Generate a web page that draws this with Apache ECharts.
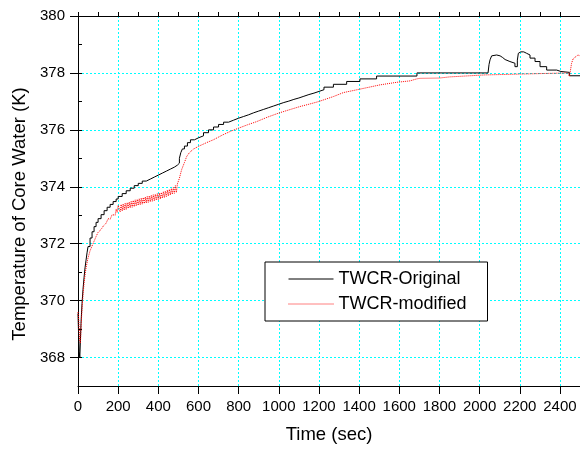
<!DOCTYPE html>
<html>
<head>
<meta charset="utf-8">
<script src="https://cdn.jsdelivr.net/npm/echarts@6/dist/echarts.min.js"></script>
<style>
  html, body { margin: 0; padding: 0; background: #fff; }
  #chart { width: 580px; height: 450px; }
</style>
</head>
<body>
<div id="chart"></div>
<script>
// Core water temperature (K) against time (s), [time, temperature] pairs.
// TWCR-Original is a stepped trace: each pair holds the level from that time on.
const twcrOriginal = [
  [0, 369.55], [3, 368.8], [6, 368.2], [9, 368.0], [12, 368.6], [15, 369.2],
  [20, 369.9], [25, 370.4], [30, 370.8], [35, 371.15], [40, 371.42], [45, 371.68],
  [50, 371.9], [60, 372.2], [70, 372.42], [80, 372.6], [90, 372.75], [100, 372.88],
  [115, 373.02], [130, 373.16], [145, 373.28], [160, 373.38], [175, 373.48],
  [190, 373.57], [200, 373.66], [220, 373.76], [240, 373.86], [260, 373.95],
  [280, 374.04], [300, 374.12], [320, 374.2], [340, 374.27], [360, 374.34],
  [380, 374.41], [400, 374.48], [420, 374.55], [440, 374.62], [460, 374.69],
  [480, 374.76], [495, 374.83], [505, 375.0], [512, 375.2], [520, 375.33],
  [530, 375.43], [545, 375.55], [560, 375.65], [580, 375.72], [600, 375.79],
  [625, 375.9], [650, 376.0], [675, 376.1], [700, 376.19], [725, 376.27],
  [750, 376.34], [775, 376.41], [800, 376.47], [825, 376.53], [850, 376.6],
  [875, 376.66], [900, 376.72], [925, 376.78], [950, 376.84], [975, 376.9],
  [1000, 376.96], [1025, 377.01], [1050, 377.07], [1075, 377.12], [1100, 377.18],
  [1125, 377.24], [1150, 377.29], [1175, 377.35], [1200, 377.41], [1225, 377.5],
  [1272, 377.6], [1338, 377.7], [1404, 377.79], [1487, 377.89], [1688, 378.0],
  [2042, 378.0], [2047, 378.3], [2052, 378.46], [2060, 378.6], [2068, 378.63],
  [2085, 378.6], [2102, 378.54], [2115, 378.47], [2127, 378.4], [2151, 378.34],
  [2176, 378.22], [2188, 378.45], [2193, 378.69], [2200, 378.74], [2205, 378.8],
  [2212, 378.74], [2220, 378.69], [2234, 378.63], [2251, 378.52], [2276, 378.4],
  [2301, 378.22], [2334, 378.1], [2384, 378.05], [2405, 378.02], [2447, 377.9],
  [2500, 377.9]
];

const twcrModified = [
  [0, 369.6], [4, 369.3], [8, 368.6], [12, 368.5], [16, 369.2], [20, 369.7],
  [25, 370.2], [30, 370.6], [35, 370.9], [40, 371.15], [50, 371.5], [60, 371.75],
  [76, 372.02], [90, 372.25], [100, 372.4], [115, 372.5], [126, 372.62],
  [140, 372.72], [150, 372.88], [160, 372.86], [170, 373.02], [176, 373.08],
  [185, 373.0], [190, 373.22], [195, 373.1], [200, 373.35],
  [205, 373.36], [210, 373.12], [215, 373.38], [220, 373.15], [225, 373.4],
  [230, 373.18], [235, 373.42], [240, 373.2], [245, 373.44], [250, 373.24],
  [255, 373.46], [260, 373.26], [265, 373.49], [270, 373.28], [275, 373.52],
  [280, 373.3], [285, 373.54], [290, 373.33], [295, 373.56], [300, 373.35],
  [305, 373.58], [310, 373.37], [315, 373.6], [320, 373.39], [325, 373.62],
  [330, 373.41], [335, 373.64], [340, 373.43], [345, 373.66], [350, 373.45],
  [355, 373.68], [360, 373.47], [365, 373.7], [370, 373.49], [375, 373.72],
  [380, 373.51], [385, 373.74], [390, 373.53], [395, 373.76], [400, 373.55],
  [405, 373.78], [410, 373.57], [415, 373.8], [420, 373.6], [425, 373.83],
  [430, 373.62], [435, 373.85], [440, 373.65], [445, 373.88], [450, 373.68],
  [455, 373.91], [460, 373.71], [465, 373.94], [470, 373.74], [475, 373.98],
  [480, 373.77], [485, 374.04], [490, 373.8], [495, 374.1],
  [500, 374.12], [505, 374.3], [516, 374.6], [530, 374.85], [541, 375.06],
  [555, 375.2], [574, 375.32], [600, 375.42], [640, 375.55], [674, 375.65],
  [720, 375.82], [760, 375.95], [800, 376.06], [845, 376.18], [890, 376.29],
  [945, 376.45], [1000, 376.59], [1050, 376.7], [1106, 376.82], [1150, 376.9],
  [1197, 376.99], [1247, 377.11], [1272, 377.17], [1322, 377.31], [1404, 377.43],
  [1504, 377.58], [1587, 377.67], [1653, 377.72], [1687, 377.79], [1703, 377.81],
  [1800, 377.82], [1805, 377.86], [1850, 377.86], [1858, 377.93], [2028, 377.93],
  [2034, 378.0], [2440, 378.0], [2448, 377.88], [2452, 377.95], [2458, 378.34],
  [2466, 378.5], [2475, 378.57], [2490, 378.63], [2500, 378.6]
];

const seriesNames = ['TWCR-Original', 'TWCR-modified'];
const xTitle = 'Time (sec)';
const yTitle = 'Temperature of Core Water (K)';

const FONT = "'Liberation Sans', Arial, sans-serif";
const gridLine = {
  show: true, showMinLine: false, showMaxLine: false,
  lineStyle: { color: '#00ffff', type: [2, 2], width: 1 }
};
const axisBlack = { lineStyle: { color: '#000', width: 1 } };
const plain = (v) => String(v);

const originalLine = { color: '#000000', width: 1, type: 'solid' };
const modifiedLine = { color: '#ff0000', width: 1, type: [1, 1] };

const chart = echarts.init(document.getElementById('chart'), null, { renderer: 'canvas' });

chart.setOption({
  animation: false,
  backgroundColor: '#fff',
  textStyle: { fontFamily: FONT },
  grid: { left: 78, right: 0, top: 16, bottom: 64, show: false },
  legend: {
    orient: 'vertical',
    left: 265, top: 262,
    padding: [8, 21, 8, 23],
    itemGap: 7,
    itemWidth: 45, itemHeight: 13,
    backgroundColor: '#fff',
    borderColor: '#000', borderWidth: 1,
    itemStyle: { opacity: 0 },
    textStyle: { fontFamily: FONT, fontSize: 18, color: '#000' },
    data: [
      { name: seriesNames[0], lineStyle: originalLine, itemStyle: { opacity: 0 } },
      { name: seriesNames[1], lineStyle: modifiedLine, itemStyle: { opacity: 0 } }
    ]
  },
  xAxis: [
    {
      type: 'value', min: 0, max: 2500, interval: 200,
      name: xTitle, nameLocation: 'middle', nameGap: 39,
      nameTextStyle: { fontFamily: FONT, fontSize: 18.5, color: '#000' },
      axisLine: axisBlack,
      axisTick: { show: true, inside: false, length: 8, lineStyle: { color: '#000' } },
      axisLabel: { fontFamily: FONT, fontSize: 15, color: '#000', margin: 13, showMaxLabel: false, formatter: plain },
      splitLine: gridLine
    },
    {
      // minor ticks every 100 s
      type: 'value', min: 0, max: 2500, interval: 100,
      axisLine: { show: false },
      axisTick: { show: true, length: 4, lineStyle: { color: '#000' } },
      axisLabel: { show: false },
      splitLine: { show: false }
    },
    {
      // frame line along the top of the plot
      type: 'value', position: 'top', min: 0, max: 2500,
      axisLine: axisBlack,
      axisTick: { show: false },
      axisLabel: { show: false },
      splitLine: { show: false }
    }
  ],
  yAxis: [
    {
      type: 'value', min: 367, max: 380, minInterval: 2, maxInterval: 2, splitNumber: 6,
      name: yTitle, nameLocation: 'middle', nameGap: 49,
      nameTextStyle: { fontFamily: FONT, fontSize: 18.5, color: '#000', padding: [0, 26, 0, 0] },
      axisLine: axisBlack,
      axisTick: { show: true, inside: false, length: 8, lineStyle: { color: '#000' } },
      axisLabel: { fontFamily: FONT, fontSize: 15, color: '#000', margin: 13, showMinLabel: false, formatter: plain },
      splitLine: gridLine
    },
    {
      // minor ticks every 1 K
      type: 'value', min: 367, max: 380, interval: 1,
      axisLine: { show: false },
      axisTick: { show: true, length: 4, lineStyle: { color: '#000' } },
      axisLabel: { show: false },
      splitLine: { show: false }
    }
  ],
  series: [
    {
      name: seriesNames[0], type: 'line', xAxisIndex: 0, yAxisIndex: 0,
      step: 'end', symbol: 'none', showSymbol: false,
      lineStyle: originalLine,
      itemStyle: { color: '#000' },
      data: twcrOriginal
    },
    {
      name: seriesNames[1], type: 'line', xAxisIndex: 0, yAxisIndex: 0,
      symbol: 'none', showSymbol: false,
      lineStyle: modifiedLine,
      itemStyle: { color: '#ff0000' },
      data: twcrModified
    }
  ]
});
</script>
</body>
</html>
